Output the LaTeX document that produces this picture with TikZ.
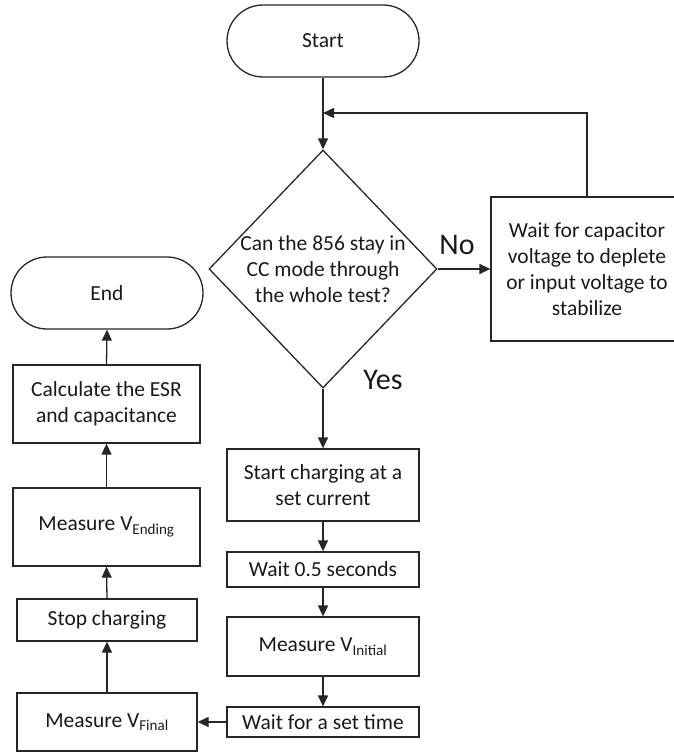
\documentclass[tikz,border=0pt]{standalone}
\usepackage{fontspec}
\setmainfont{Carlito}
\usetikzlibrary{shapes.geometric,arrows.meta}
\begin{document}
\begin{tikzpicture}[x=1pt,y=-1pt,
  every node/.style={font=\fontsize{21.5}{26}\selectfont, align=center, text=black!90},
  ln/.style={draw=black!85, line width=1.3pt},
  ar/.style={ln, -{Triangle[length=11pt,width=10pt]}},
  term/.style={ln, rectangle, rounded corners=36pt, minimum width=192pt, minimum height=72pt, inner sep=0pt},
  proc/.style={ln, rectangle, inner sep=0pt},
  dec/.style={ln, diamond, minimum width=228pt, minimum height=238pt, inner sep=0pt},
  lbl/.style={font=\fontsize{30}{36}\selectfont}]
\useasboundingbox (0,0) rectangle (674,752);
\clip (0,0) rectangle (674,752);
% right column
\node[term] (start) at (323,41) {Start};
\node[dec] (dec) at (323,269) {};
\node (dtext) at (323,269) {Can the 856 stay in\\CC mode through\\the whole test?};
\node[proc, minimum width=192pt, minimum height=144pt] (wait) at (587,269) {Wait for capacitor\\voltage to deplete\\or input voltage to\\stabilize};
\node[proc, minimum width=192pt, minimum height=72pt] (scharge) at (323,485) {Start charging at a\\set current};
\node[proc, minimum width=192pt, minimum height=35pt] (w05) at (323,569.5) {Wait 0.5 seconds};
\node[proc, minimum width=192pt, minimum height=59pt] (vinit) at (323,646.5) {Measure V\textsubscript{Initial}};
\node[proc, minimum width=192pt, minimum height=30pt] (wset) at (323,722) {Wait for a set time};
% left column
\node[term] (end) at (107,293) {End};
\node[proc, minimum width=187pt, minimum height=78pt] (calc) at (106.5,404) {Calculate the ESR\\and capacitance};
\node[proc, minimum width=187pt, minimum height=78pt] (vend) at (106.5,527) {Measure V\textsubscript{Ending}};
\node[proc, minimum width=180pt, minimum height=42pt] (stop) at (107,620) {Stop charging};
\node[proc, minimum width=180pt, minimum height=58pt] (vfin) at (107,722) {Measure V\textsubscript{Final}};
% labels
\node[lbl] (no) at (457,245) {No};
\node[lbl] (yes) at (383,380) {Yes};
\coordinate (join) at (323,113);
% connectors
\draw[ar] (start.south) -- (dec.north);
\draw[ar] (wait.north) |- (join);
\draw[ar] (dec.east) -- (wait.west);
\draw[ar] (dec.south) -- (scharge.north);
\draw[ar] (scharge.south) -- (w05.north);
\draw[ar] (w05.south) -- (vinit.north);
\draw[ar] (vinit.south) -- (wset.north);
\draw[ar] (wset.west) -- (vfin.east);
\draw[ar] (vfin.north) -- (stop.south);
\draw[ar] (stop.north) -- (vend.south);
\draw[ar] (vend.north) -- (calc.south);
\draw[ar] (calc.north) -- (end.south);
\end{tikzpicture}
\end{document}
